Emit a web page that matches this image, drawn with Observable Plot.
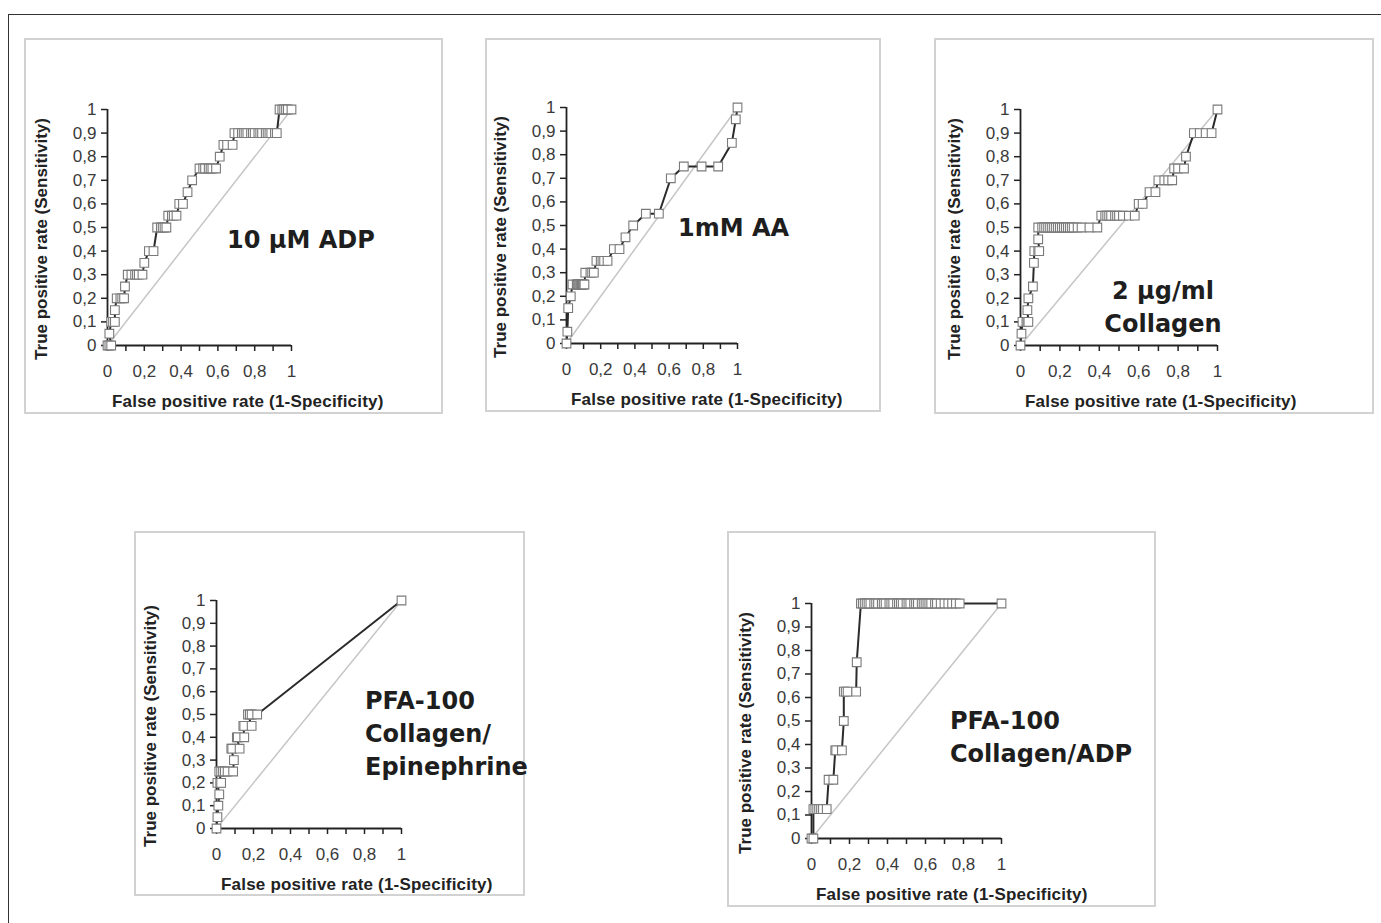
<!DOCTYPE html>
<html><head><meta charset="utf-8">
<script src="https://cdn.jsdelivr.net/npm/d3@7"></script>
<script src="https://cdn.jsdelivr.net/npm/@observablehq/plot@0.6"></script>
<style>
body{margin:0;background:#fff;}
#fig{position:relative;width:1381px;height:923px;overflow:hidden;background:#fff;font-family:"Liberation Sans",Arial,sans-serif;}
.outer{position:absolute;left:8px;top:14px;width:1400px;height:1000px;border:1.5px solid #333;box-sizing:border-box;}
.panel{position:absolute;border:2px solid #d2d2d2;box-sizing:border-box;background:#fff;}
.xt{position:absolute;white-space:nowrap;font-weight:bold;font-size:17px;color:#222;transform:translateY(-50%);letter-spacing:0.2px;}
.yt{position:absolute;white-space:nowrap;font-weight:bold;font-size:17px;color:#222;transform:translate(-50%,-50%) rotate(-90deg);}
.ann{position:absolute;font-family:"DejaVu Sans",Verdana,sans-serif;font-weight:bold;font-size:24px;color:#1e1e1e;line-height:33px;white-space:nowrap;}
.plotwrap{position:absolute;}
.plotwrap svg{overflow:visible;}
</style></head>
<body><div id="fig"><div class="outer"></div></div>
<script>
// ---- data ----
const xMinorTicks = [0,0.1,0.2,0.3,0.4,0.5,0.6,0.7,0.8,0.9,1];
const xLabelTicks = [0,0.2,0.4,0.6,0.8,1];
const yTicks = [0,0.1,0.2,0.3,0.4,0.5,0.6,0.7,0.8,0.9,1];
const diagonal = [0,1];

const adpFpr = [0,0.01,0.02,0.01,0.02,0.03,0.04,0.04,0.05,0.07,0.08,0.09,0.095,0.11,0.13,0.15,0.16,0.17,0.19,0.2,0.225,0.25,0.27,0.29,0.3,0.31,0.32,0.33,0.35,0.36,0.375,0.39,0.41,0.435,0.46,0.5,0.52,0.53,0.55,0.56,0.57,0.59,0.61,0.63,0.65,0.68,0.69,0.71,0.73,0.74,0.75,0.76,0.78,0.79,0.8,0.82,0.83,0.84,0.86,0.87,0.88,0.89,0.91,0.92,0.935,0.95,0.96,0.97,0.98,1];
const adpTpr = [0,0,0,0.05,0.1,0.1,0.1,0.15,0.2,0.2,0.2,0.2,0.25,0.3,0.3,0.3,0.3,0.3,0.3,0.35,0.4,0.4,0.5,0.5,0.5,0.5,0.5,0.55,0.55,0.55,0.55,0.6,0.6,0.65,0.7,0.75,0.75,0.75,0.75,0.75,0.75,0.75,0.8,0.85,0.85,0.85,0.9,0.9,0.9,0.9,0.9,0.9,0.9,0.9,0.9,0.9,0.9,0.9,0.9,0.9,0.9,0.9,0.9,0.9,1,1,1,1,1,1];

const aaFpr = [0,0.005,0.01,0.025,0.035,0.06,0.065,0.07,0.075,0.08,0.085,0.09,0.095,0.1,0.105,0.11,0.14,0.15,0.16,0.175,0.2,0.21,0.22,0.24,0.277,0.31,0.345,0.39,0.464,0.54,0.61,0.686,0.79,0.887,0.967,0.99,1];
const aaTpr = [0,0.05,0.15,0.2,0.25,0.25,0.25,0.25,0.25,0.25,0.25,0.25,0.25,0.25,0.25,0.3,0.3,0.3,0.3,0.35,0.35,0.35,0.35,0.35,0.4,0.4,0.45,0.5,0.55,0.55,0.7,0.75,0.75,0.75,0.85,0.95,1];

const colFpr = [0,0.005,0.01,0.03,0.035,0.04,0.035,0.04,0.063,0.068,0.07,0.09,0.095,0.09,0.09,0.11,0.12,0.13,0.14,0.15,0.16,0.17,0.18,0.19,0.2,0.21,0.22,0.23,0.24,0.25,0.26,0.27,0.29,0.31,0.35,0.39,0.41,0.43,0.44,0.45,0.46,0.48,0.49,0.5,0.52,0.55,0.58,0.6,0.62,0.655,0.685,0.7,0.73,0.75,0.77,0.78,0.8,0.83,0.84,0.88,0.91,0.94,0.97,1];
const colTpr = [0,0.05,0.1,0.1,0.1,0.1,0.15,0.2,0.25,0.35,0.4,0.4,0.4,0.45,0.5,0.5,0.5,0.5,0.5,0.5,0.5,0.5,0.5,0.5,0.5,0.5,0.5,0.5,0.5,0.5,0.5,0.5,0.5,0.5,0.5,0.5,0.55,0.55,0.55,0.55,0.55,0.55,0.55,0.55,0.55,0.55,0.55,0.6,0.6,0.65,0.65,0.7,0.7,0.7,0.7,0.75,0.75,0.75,0.8,0.9,0.9,0.9,0.9,1];

const epiFpr = [0,0.005,0.01,0.015,0.005,0.02,0.025,0.015,0.025,0.035,0.045,0.06,0.09,0.094,0.08,0.085,0.125,0.11,0.115,0.15,0.145,0.15,0.19,0.17,0.18,0.19,0.22,1];
const epiTpr = [0,0.05,0.1,0.15,0.2,0.2,0.2,0.25,0.25,0.25,0.25,0.25,0.25,0.3,0.35,0.35,0.35,0.4,0.4,0.4,0.45,0.45,0.45,0.5,0.5,0.5,0.5,1];

const pfaAdpFpr = [0,0.01,0.01,0.02,0.03,0.04,0.05,0.06,0.08,0.09,0.115,0.125,0.13,0.16,0.17,0.17,0.18,0.19,0.235,0.238,0.26,0.27,0.28,0.29,0.3,0.31,0.33,0.34,0.35,0.37,0.38,0.39,0.41,0.42,0.43,0.45,0.46,0.47,0.48,0.5,0.51,0.52,0.54,0.55,0.56,0.58,0.59,0.6,0.61,0.62,0.63,0.65,0.66,0.68,0.7,0.72,0.74,0.76,0.78,1];
const pfaAdpTpr = [0,0,0.125,0.125,0.125,0.125,0.125,0.125,0.125,0.25,0.25,0.375,0.375,0.375,0.5,0.625,0.625,0.625,0.625,0.75,1,1,1,1,1,1,1,1,1,1,1,1,1,1,1,1,1,1,1,1,1,1,1,1,1,1,1,1,1,1,1,1,1,1,1,1,1,1,1,1];

const panelNames = ["10 µM ADP","1mM AA","2 µg/ml Collagen","PFA-100 Collagen/Epinephrine","PFA-100 Collagen/ADP"];
const annotationLines = [["10 µM ADP"],["1mM AA"],["2 µg/ml","Collagen"],["PFA-100","Collagen/","Epinephrine"],["PFA-100","Collagen/ADP"]];
const xTitle = "False positive rate (1-Specificity)";
const yTitle = "True positive rate (Sensitivity)";

// ---- layout ----
const panels = [
  {fpr:adpFpr, tpr:adpTpr, box:[24,38,443,414], ax:[107,291,345,109], ann:[227,240,"left"]},
  {fpr:aaFpr, tpr:aaTpr, box:[485,38,881,412], ax:[566,737,343,107], ann:[678,228,"left"]},
  {fpr:colFpr, tpr:colTpr, box:[934,38,1374,414], ax:[1020,1217,345,109], ann:[1163,291,"center"]},
  {fpr:epiFpr, tpr:epiTpr, box:[134,531,525,896], ax:[216,401,828,600], ann:[365,701,"left"]},
  {fpr:pfaAdpFpr, tpr:pfaAdpTpr, box:[727,531,1156,907], ax:[811,1001,838,603], ann:[950,721,"left"]}
];

const fig = document.getElementById("fig");
const fmt = d => String(d).replace(".", ",");

panels.forEach((p, i) => {
  const [bl, bt, br, bb] = p.box;
  const box = document.createElement("div");
  box.className = "panel";
  Object.assign(box.style, {left: bl+"px", top: bt+"px", width: (br-bl)+"px", height: (bb-bt)+"px"});
  fig.appendChild(box);

  const [x0, x1, y0, y1] = p.ax;
  const ml = 60, mr = 20, mt = 15, mb = 40;
  const W = (x1 - x0) + ml + mr, H = (y0 - y1) + mt + mb;
  const data = p.fpr.map((f, k) => ({fpr: f, tpr: p.tpr[k]}));

  const chart = Plot.plot({
    width: W, height: H,
    marginLeft: ml, marginRight: mr, marginTop: mt, marginBottom: mb,
    x: {domain: [0, 1]},
    y: {domain: [0, 1]},
    style: {fontFamily: '"Liberation Sans", Arial, sans-serif', fontSize: "17px", color: "#3a3a3a", background: "transparent", overflow: "visible"},
    marks: [
      Plot.axisX({ticks: xMinorTicks, tickSize: 6, tickFormat: () => "", stroke: "#222", strokeWidth: 1.5, label: null}),
      Plot.axisX({ticks: xLabelTicks, tickSize: 0, tickPadding: 19, tickFormat: fmt, label: null}),
      Plot.axisY({ticks: yTicks, tickSize: 6, tickPadding: 5, tickFormat: fmt, stroke: "#222", strokeWidth: 1.5, label: null}),
      Plot.line(diagonal, {x: d => d, y: d => d, stroke: "#c6c6c6", strokeWidth: 1.5}),
      Plot.ruleX([0], {y1: 0, y2: 1, stroke: "#222", strokeWidth: 1.8}),
      Plot.ruleY([0], {x1: 0, x2: 1, stroke: "#222", strokeWidth: 1.8}),
      Plot.line(data, {x: "fpr", y: "tpr", stroke: "#2b2b2b", strokeWidth: 2}),
      Plot.dot(data, {x: "fpr", y: "tpr", symbol: "square", r: 4.9, stroke: "#7a7a7a", strokeWidth: 1.1, fill: "white"})
    ]
  });
  const wrap = document.createElement("div");
  wrap.className = "plotwrap";
  Object.assign(wrap.style, {left: (x0 - ml)+"px", top: (y1 - mt)+"px"});
  wrap.appendChild(chart);
  fig.appendChild(wrap);

  const xt = document.createElement("div");
  xt.className = "xt"; xt.textContent = xTitle;
  Object.assign(xt.style, {left: (x0 + 5)+"px", top: (y0 + 57)+"px"});
  fig.appendChild(xt);

  const yt = document.createElement("div");
  yt.className = "yt"; yt.textContent = yTitle;
  Object.assign(yt.style, {left: (x0 - 65)+"px", top: ((y0 + y1)/2 + 12)+"px"});
  fig.appendChild(yt);

  const [ax, ay, align] = p.ann;
  const an = document.createElement("div");
  an.className = "ann";
  an.innerHTML = annotationLines[i].map(s => s.replace(/&/g,"&amp;")).join("<br>");
  an.style.top = (ay - 16.5) + "px";
  an.style.textAlign = align;
  if (align === "center") { an.style.left = ax + "px"; an.style.transform = "translateX(-50%)"; }
  else an.style.left = ax + "px";
  fig.appendChild(an);
});
</script>
</body></html>
